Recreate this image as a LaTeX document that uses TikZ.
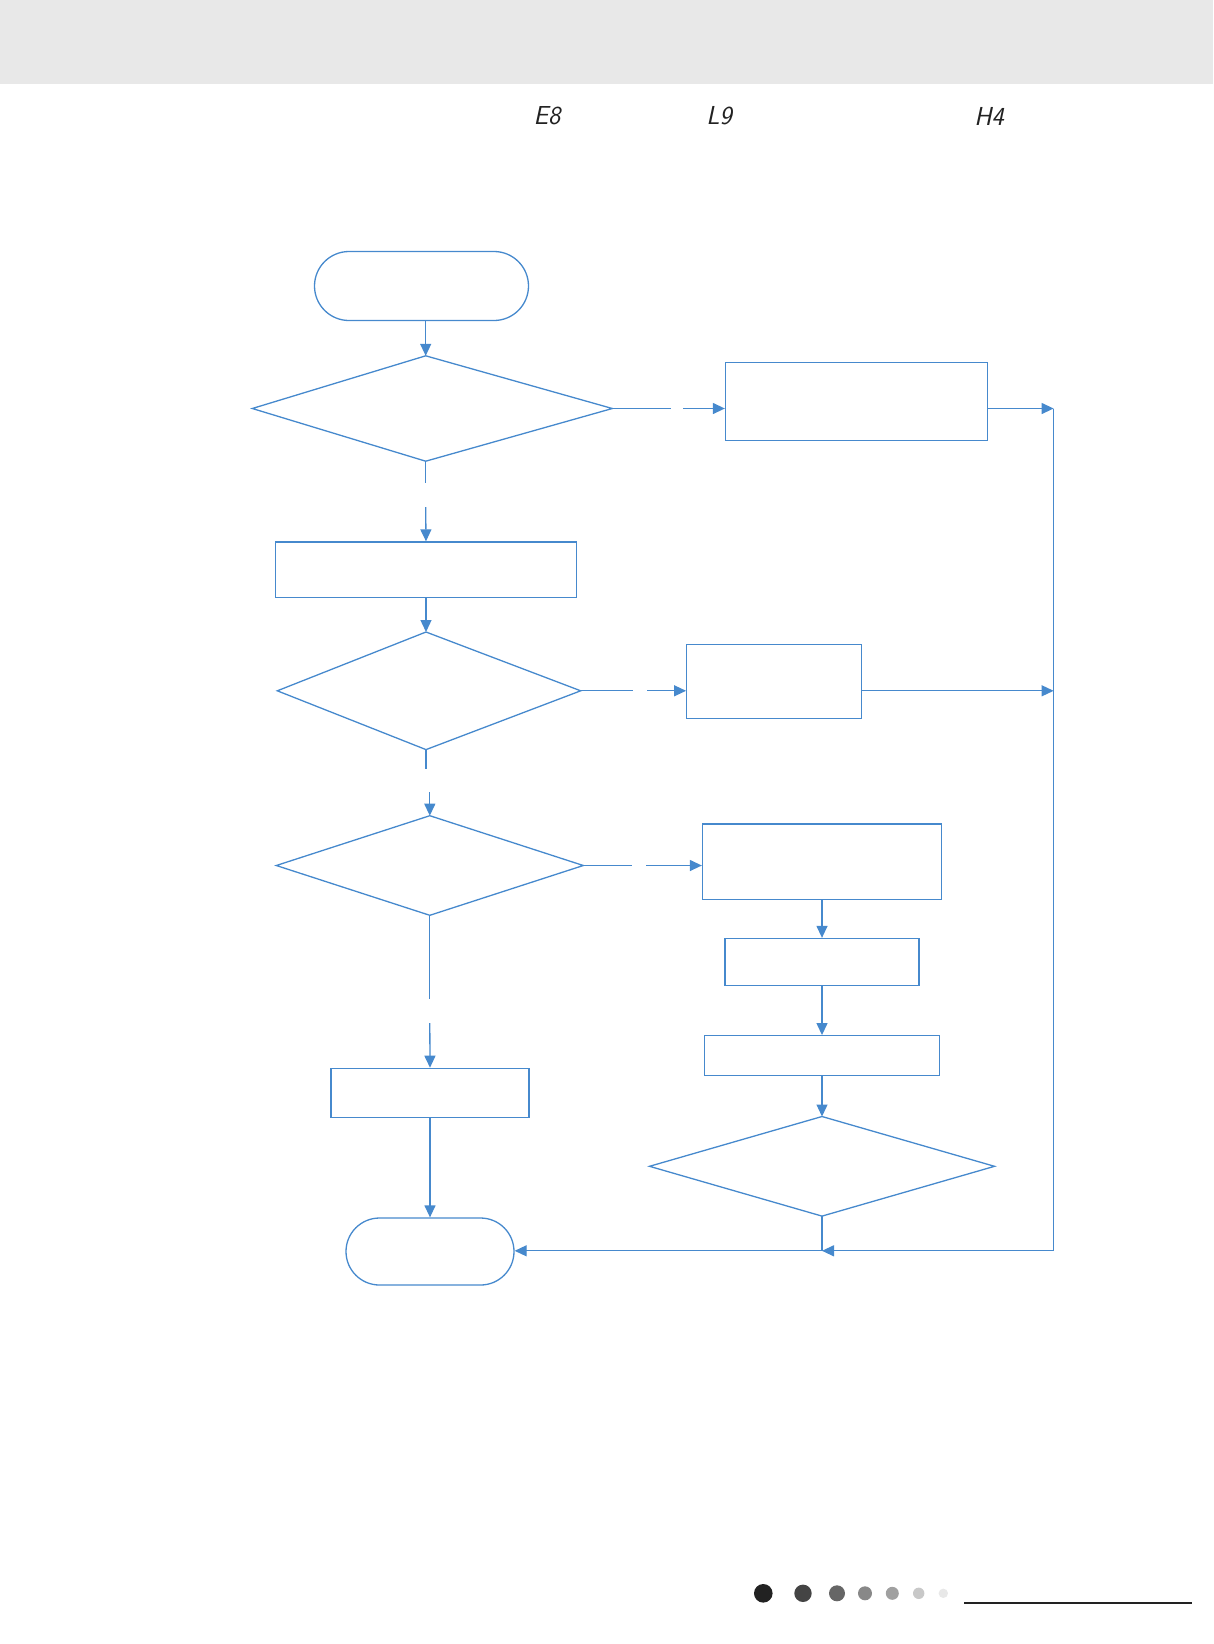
\documentclass[tikz,border=0pt]{standalone}
\usepackage{xcolor}
\usepackage{tikz}
\usetikzlibrary{positioning,arrows.meta,shapes.geometric,shapes.misc,calc}

\definecolor{flowblue}{HTML}{4689CD}
\definecolor{bandgray}{HTML}{E8E8E8}
\definecolor{inkgray}{HTML}{222222}

\tikzset{
  term/.style    = {rounded rectangle, draw=flowblue, line width=1.3pt, inner sep=0pt},
  procbox/.style = {rectangle, draw=flowblue, line width=1.3pt, inner sep=0pt},
  decide/.style  = {diamond, draw=flowblue, line width=1.3pt, inner sep=0pt, outer sep=0pt},
  flow/.style    = {draw=flowblue, line width=1.3pt},
  flowarr/.style = {flow, -{Triangle[length=12pt,width=11pt]}},
  code/.style    = {font=\fontsize{26}{26}\selectfont\sffamily\slshape, text=inkgray}
}

\begin{document}
\begin{tikzpicture}[x=1pt, y=-1pt]
  \useasboundingbox (0,0) rectangle (1213,1644);

  % header band and the three codes
  \fill[bandgray] (0,0) rectangle (1213,84);
  \node[code] (lblE8) at (547,116) {E8};
  \node[code] (lblL9) at (719,116) {L9};
  \node[code] (lblH4) at (989,116) {H4};

  % left column
  \node[term, minimum width=214pt, minimum height=69pt] (start) at (421.5,286) {};

  % first check: diamond a little wider on the right
  \coordinate (d1-n) at (425.7,355.8);
  \coordinate (d1-e) at (612.3,408.5);
  \coordinate (d1-s) at (425.7,461.2);
  \coordinate (d1-w) at (252.3,408.5);
  \draw[flow, line join=miter] (d1-n) -- (d1-e) -- (d1-s) -- (d1-w) -- cycle;

  \node[procbox, minimum width=301pt, minimum height=55.6pt] (b1) at (426,569.8) {};

  % second check: same, a little wider on the right
  \coordinate (d2-n) at (426,632);
  \coordinate (d2-e) at (580.7,690.8);
  \coordinate (d2-s) at (426,749.6);
  \coordinate (d2-w) at (277.3,690.8);
  \draw[flow, line join=miter] (d2-n) -- (d2-e) -- (d2-s) -- (d2-w) -- cycle;

  \node[decide, minimum width=307pt, minimum height=99.6pt] (d3) at (429.8,865.5) {};
  \node[procbox, minimum width=198pt, minimum height=49.3pt] (b2) at (430,1093) {};
  \node[term, minimum width=168pt, minimum height=67pt] (stop) at (430,1251.5) {};

  % right column
  \node[procbox, minimum width=262pt, minimum height=77.6pt] (r1) at (856.5,401.5) {};
  \node[procbox, minimum width=175pt, minimum height=73.4pt] (r2) at (774.2,681.5) {};
  \node[procbox, minimum width=239pt, minimum height=75.5pt] (r3) at (822,861.8) {};
  \node[procbox, minimum width=194pt, minimum height=47pt] (r4) at (822,962) {};
  \node[procbox, minimum width=235pt, minimum height=40pt] (r5) at (822,1055.7) {};
  \node[decide, minimum width=345pt, minimum height=99.6pt] (d4) at (822,1166.3) {};

  % gap ends (label spaces left empty)
  \coordinate (g1a) at (671,408.5);   \coordinate (g1b) at (683,408.5);
  \coordinate (g2a) at (425.7,483);   \coordinate (g2b) at (425.7,507);
  \coordinate (g3a) at (633,690.8);   \coordinate (g3b) at (647,690.8);
  \coordinate (g4a) at (426,768.5);   \coordinate (g4b) at (429.8,792);
  \coordinate (g5a) at (632,865.5);   \coordinate (g5b) at (646,865.5);
  \coordinate (g6a) at (429.8,999);   \coordinate (g6b) at (429.8,1023);

  % return rail on the right
  \coordinate (rtop) at (1053.6,408.5);
  \coordinate (rbot) at (1053.6,1250.8);
  \coordinate (join) at (822,1250.8);

  % connectors
  \draw[flowarr] (start.south -| d1-n) -- (d1-n);
  \draw[flow] (d1-e) -- (g1a);
  \draw[flowarr] (g1b) -- (g1b -| r1.west);
  \draw[flowarr] (d1-e -| r1.east) -- (rtop);
  \draw[flow] (d1-s) -- (g2a);
  \draw[flowarr] (g2b) -- (b1.north);
  \draw[flowarr] (b1.south) -- (d2-n);
  \draw[flow] (d2-e) -- (g3a);
  \draw[flowarr] (g3b) -- (g3b -| r2.west);
  \draw[flowarr] (d2-e -| r2.east) -- (d2-e -| rtop);
  \draw[flow] (d2-s) -- (g4a);
  \draw[flowarr] (g4b) -- (d3.north);
  \draw[flow] (d3.east) -- (g5a);
  \draw[flowarr] (g5b) -- (g5b -| r3.west);
  \draw[flowarr] (r3.south) -- (r4.north);
  \draw[flowarr] (r4.south) -- (r5.north);
  \draw[flowarr] (r5.south) -- (d4.north);
  \draw[flow] (d3.south) -- (g6a);
  \draw[flowarr] (g6b) -- (b2.north);
  \draw[flowarr] (b2.south) -- (stop.north);
  \draw[flow] (d4.south) -- (join);
  \draw[flowarr] (rtop) -- (rbot) -- (join);
  \draw[flowarr] (join) -- (join -| stop.east);

  % page marks at the foot
  \foreach \px/\pr/\pc in {763.3/9.3/222222, 803/8.7/444444, 837/8/666666,
                           865/7/888888, 892.3/6.5/A0A0A0, 918.7/5.7/C8C8C8, 943.3/4.7/E8E8E8} {
    \definecolor{dotc}{HTML}{\pc}
    \fill[dotc] (\px,1593.3) circle (\pr);
  }
  \draw[inkgray, line width=2pt] (964,1603) -- (1192,1603);
\end{tikzpicture}
\end{document}
